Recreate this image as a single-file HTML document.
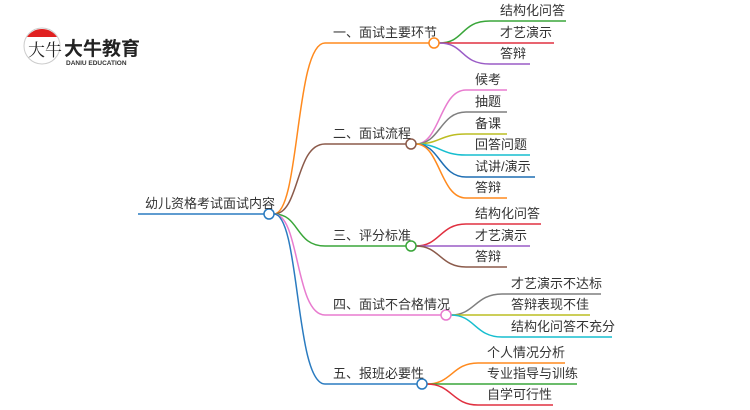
<!DOCTYPE html>
<html><head><meta charset="utf-8"><style>
html,body{margin:0;padding:0;background:#fff;}
svg{display:block;}
text{font-family:"Liberation Sans","Noto Sans CJK SC",sans-serif;font-size:13px;fill:#333;}
</style></head><body>
<svg width="750" height="410" viewBox="0 0 750 410" xmlns="http://www.w3.org/2000/svg">
<!-- logo -->
<circle cx="42" cy="46" r="18" fill="#fff" stroke="#ccc" stroke-width="1"/>
<path d="M27,37 A18,18 0 0 1 57,37 Z" fill="#e02020"/>
<text x="28" y="56" style="font-size:17px;fill:#222;font-family:'Liberation Serif','Noto Serif CJK SC',serif">大牛</text>
<text x="64" y="55" style="font-size:19px;font-weight:bold;fill:#222">大牛教育</text>
<text x="66" y="65" style="font-size:6.5px;fill:#333;font-weight:bold">DANIU EDUCATION</text>

<g fill="none" stroke-width="1.5">
<path d="M138,214 H264" stroke="#2a7bc0"/>
<path d="M274,214 C300,214 295,43 325,43 H429" stroke="#ff8a1e"/>
<path d="M274,214 C300,214 295,144 325,144 H406" stroke="#8b5a4a"/>
<path d="M274,214 C300,214 295,246 325,246 H406" stroke="#3aa63a"/>
<path d="M274,214 C300,214 295,315 325,315 H441" stroke="#e87ccf"/>
<path d="M274,214 C300,214 295,384 325,384 H417" stroke="#2a7bc0"/>
<path d="M439,43 C465,43 460,21 490,21 H566" stroke="#3aa63a"/>
<path d="M439,43 H554" stroke="#e03040"/>
<path d="M439,43 C465,43 460,64 490,64 H530" stroke="#9a5cc6"/>
<path d="M416,144 C440,144 440,90 466,90 H507" stroke="#e87ccf"/>
<path d="M416,144 C440,144 440,112 466,112 H507" stroke="#7f7f7f"/>
<path d="M416,144 C440,144 440,134 466,134 H507" stroke="#bcbd22"/>
<path d="M416,144 C440,144 440,155 466,155 H530" stroke="#17becf"/>
<path d="M416,144 C440,144 440,177 466,177 H535" stroke="#1f6fb4"/>
<path d="M416,144 C440,144 440,198 466,198 H507" stroke="#ff8a1e"/>
<path d="M416,246 C440,246 440,224 466,224 H541" stroke="#e03040"/>
<path d="M416,246 H530" stroke="#9a5cc6"/>
<path d="M416,246 C440,246 440,267 466,267 H507" stroke="#8b5a4a"/>
<path d="M451,315 C475,315 475,294 502,294 H601" stroke="#7f7f7f"/>
<path d="M451,315 H590" stroke="#bcbd22"/>
<path d="M451,315 C475,315 475,337 502,337 H612" stroke="#17becf"/>
<path d="M427,384 C452,384 452,363 478,363 H565" stroke="#ff8a1e"/>
<path d="M427,384 H577" stroke="#3aa63a"/>
<path d="M427,384 C452,384 452,405 478,405 H553" stroke="#e03040"/>
</g>
<g fill="#fff" stroke-width="1.5">
<circle cx="269" cy="214" r="5" stroke="#2a7bc0"/>
<circle cx="434" cy="43" r="5" stroke="#ff8a1e"/>
<circle cx="411" cy="144" r="5" stroke="#8b5a4a"/>
<circle cx="411" cy="246" r="5" stroke="#3aa63a"/>
<circle cx="446" cy="315" r="5" stroke="#e87ccf"/>
<circle cx="422" cy="384" r="5" stroke="#2a7bc0"/>
</g>
<text x="145" y="208">幼儿资格考试面试内容</text>
<text x="333" y="37">一、面试主要环节</text>
<text x="333" y="138">二、面试流程</text>
<text x="333" y="240">三、评分标准</text>
<text x="333" y="309">四、面试不合格情况</text>
<text x="333" y="378">五、报班必要性</text>
<text x="500" y="15">结构化问答</text>
<text x="500" y="37">才艺演示</text>
<text x="500" y="58">答辩</text>
<text x="475" y="84">候考</text>
<text x="475" y="106">抽题</text>
<text x="475" y="128">备课</text>
<text x="475" y="149">回答问题</text>
<text x="475" y="171">试讲/演示</text>
<text x="475" y="192">答辩</text>
<text x="475" y="218">结构化问答</text>
<text x="475" y="240">才艺演示</text>
<text x="475" y="261">答辩</text>
<text x="511" y="288">才艺演示不达标</text>
<text x="511" y="309">答辩表现不佳</text>
<text x="511" y="331">结构化问答不充分</text>
<text x="487" y="357">个人情况分析</text>
<text x="487" y="378">专业指导与训练</text>
<text x="487" y="399">自学可行性</text>
</svg>
</body></html>
